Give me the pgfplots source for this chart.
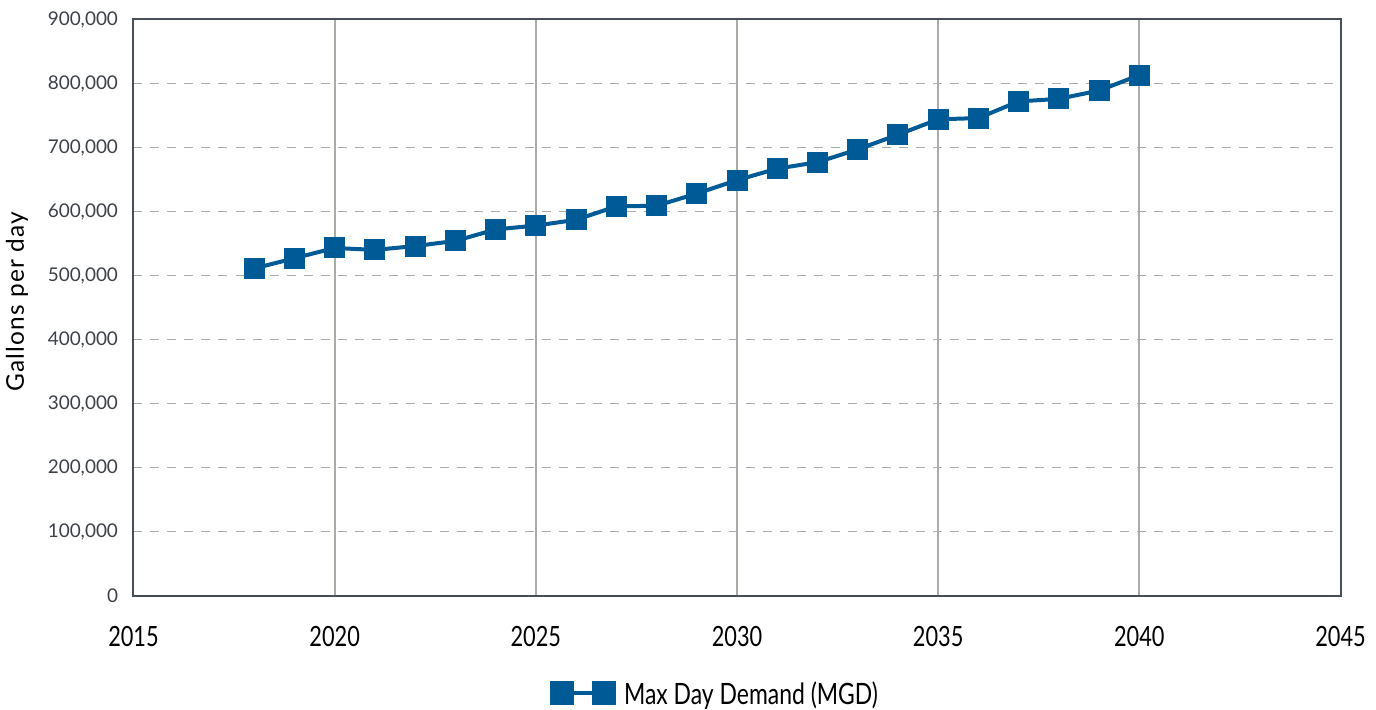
\documentclass[border=0pt]{standalone}
\usepackage{pgfplots}
\pgfplotsset{compat=1.18}
\usepackage{fontspec}
\setmainfont{Lato}
\newfontfamily\condfont[FakeStretch=0.78]{Lato}
\newfontfamily\labfont[LetterSpace=5]{Lato}
\definecolor{serblue}{HTML}{005A96}
\definecolor{vgrid}{HTML}{A8ADA5}
\definecolor{hgrid}{HTML}{ABABAB}
\definecolor{frame}{HTML}{474E56}
\definecolor{ytxt}{HTML}{3C4147}
\begin{document}
\begin{tikzpicture}
\begin{axis}[
  scale only axis,
  width=1207bp, height=576bp,
  xmin=2015, xmax=2045, ymin=0, ymax=900000,
  scaled y ticks=false, scaled x ticks=false,
  xtick={2015,2020,2025,2030,2035,2040,2045},
  xticklabels={2015,2020,2025,2030,2035,2040,2045},
  ytick={0,100000,200000,300000,400000,500000,600000,700000,800000,900000},
  yticklabels={0,{100,000},{200,000},{300,000},{400,000},{500,000},{600,000},{700,000},{800,000},{900,000}},
  major tick length=0pt,
  axis line style={frame, line width=2bp},
  grid=major,
  x grid style={vgrid, line width=2bp},
  y grid style={hgrid, line width=1.5bp, dash pattern=on 9bp off 8bp},
  yticklabel style={font=\fontsize{19}{21}\selectfont, text=ytxt, xshift=-12bp},
  xticklabel style={font=\condfont\fontsize{28}{30}\selectfont, text=black, yshift=-27bp},
  ylabel={Gallons per day},
  ylabel style={font=\labfont\fontsize{24.5}{26}\selectfont, at={(axis description cs:-0.0965,0.51)}, anchor=center},
  legend style={at={(0.4818,-0.170)}, anchor=center, draw=none, fill=none,
    font=\condfont\fontsize{29.5}{31}\selectfont},
  legend image code/.code={
    \draw[serblue, line width=4bp] (0bp,0bp) -- (62bp,0bp);
    \fill[serblue] (0bp,-10bp) rectangle (20bp,10bp);
    \fill[serblue] (42bp,-10bp) rectangle (62bp,10bp);
    \path (68bp,0bp);
  },
  clip=false,
]
\addplot[serblue, line width=4bp, mark=square*, mark size=10bp, mark options={solid, fill=serblue, draw=serblue, line width=0pt}] coordinates {
(2018,511000) (2019,527000) (2020,543000) (2021,540000) (2022,546000)
(2023,554000) (2024,572000) (2025,578000) (2026,587000) (2027,608000)
(2028,609000) (2029,628000) (2030,649000) (2031,667000) (2032,677000)
(2033,697000) (2034,720000) (2035,744000) (2036,746000) (2037,772000)
(2038,776000) (2039,789000) (2040,813000)
};
\addlegendentry{Max Day Demand (MGD)}
\end{axis}
\pgfresetboundingbox
\path[use as bounding box] (-133.5bp,-114bp) rectangle (1242.5bp,595.5bp);
\end{tikzpicture}
\end{document}
